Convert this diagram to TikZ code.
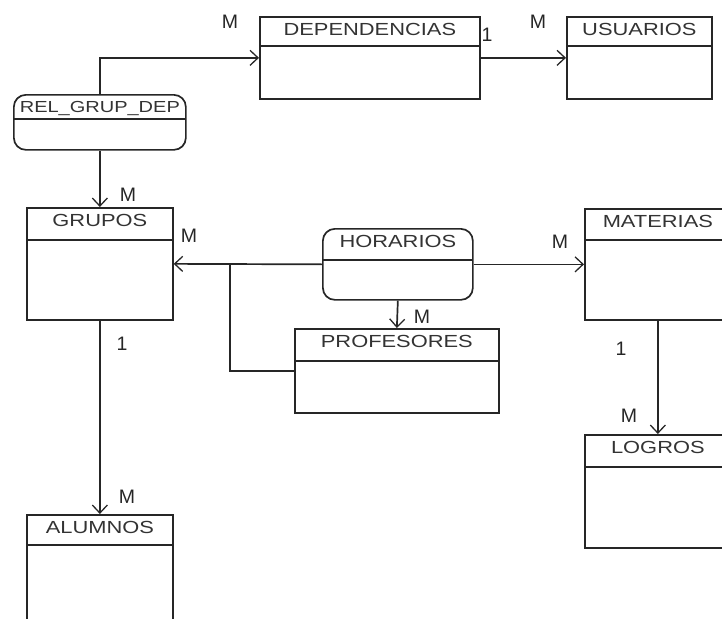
\documentclass[tikz,border=0pt]{standalone}
\usepackage{fontspec}
\setmainfont{Liberation Sans}
\newfontfamily\titlefont[FakeStretch=1.25]{Liberation Sans}
\usetikzlibrary{arrows.meta}

\begin{document}
\begin{tikzpicture}[x=1pt, y=-1pt, line width=1.7pt, draw=black!85,
  entity/.style={draw=black!85, anchor=north west, inner sep=0pt,
    path picture={\draw[black!85] ([yshift=-#1]path picture bounding box.north west)
      -- ([yshift=-#1]path picture bounding box.north east);}},
  entity/.default=31pt,
  relation/.style={entity=#1, rounded corners=12pt},
  relation/.default=31pt,
  title/.style={anchor=north, inner sep=6pt, text=black!80,
    font=\titlefont\fontsize{17.5}{20}\selectfont},
  card/.style={inner sep=0pt, text=black!85, font=\fontsize{19.5}{22}\selectfont},
  link/.style={-{Straight Barb[length=8pt,width=15pt,line width=1.3pt]}}]
  \useasboundingbox (0,0) rectangle (722,618);
  \clip (0,0) rectangle (722,618);

  % tablas
  \node[entity=29pt, minimum width=220pt, minimum height=82pt,
    label={[title]north:DEPENDENCIAS}] (dep) at (259,16) {};
  \node[entity=29pt, minimum width=145pt, minimum height=82pt,
    label={[title]north:USUARIOS}] (usu) at (566,16) {};
  \node[relation=24pt, minimum width=172pt, minimum height=55pt,
    label={[title, font=\titlefont\fontsize{16}{18}\selectfont]north:REL\_GRUP\_DEP}] (rel) at (13,94) {};
  \node[entity=32pt, minimum width=146pt, minimum height=112pt,
    label={[title]north:GRUPOS}] (gru) at (26,207) {};
  \node[relation, minimum width=150pt, minimum height=71pt,
    label={[title]north:HORARIOS}] (hor) at (322,228) {};
  \node[entity=32pt, minimum width=204pt, minimum height=84pt,
    label={[title]north:PROFESORES}] (prof) at (294,328) {};
  \node[entity, minimum width=146pt, minimum height=111pt,
    label={[title]north:MATERIAS}] (mat) at (584,208) {};
  \node[entity=32pt, minimum width=146pt, minimum height=113pt,
    label={[title]north:LOGROS}] (log) at (584,434) {};
  \node[entity=30pt, minimum width=146pt, minimum height=140pt,
    label={[title]north:ALUMNOS}] (alu) at (26,514) {};

  % relaciones
  \draw[link] (rel.north) |- (dep.west);
  \draw[link] (dep.east) -- (usu.west);
  \draw[link] (rel.south) -- (gru.north);
  \draw[link] (hor.west) -- (gru.east);
  \draw[link] (hor.east) -- (mat.west);
  \draw[link] (hor.south) -- (prof.north);
  \coordinate (fork) at (230,264);
  \draw (prof.west) -| (fork);
  \draw[link] (gru.south) -- (alu.north);
  \draw[link] (mat.south) -- (log.north);

  % cardinalidades
  \node[card] (cdep) at (230,22) {M};
  \node[card] (cdepu) at (487,35) {1};
  \node[card] (cusu) at (538,22) {M};
  \node[card] (cgru) at (128,195) {M};
  \node[card] (cgruh) at (189,236) {M};
  \node[card] (cgrua) at (122,344) {1};
  \node[card] (cmat) at (560,242) {M};
  \node[card] (cprof) at (422,317) {M};
  \node[card] (cmatl) at (621,349) {1};
  \node[card] (clog) at (629,416) {M};
  \node[card] (calu) at (127,497) {M};
\end{tikzpicture}
\end{document}
